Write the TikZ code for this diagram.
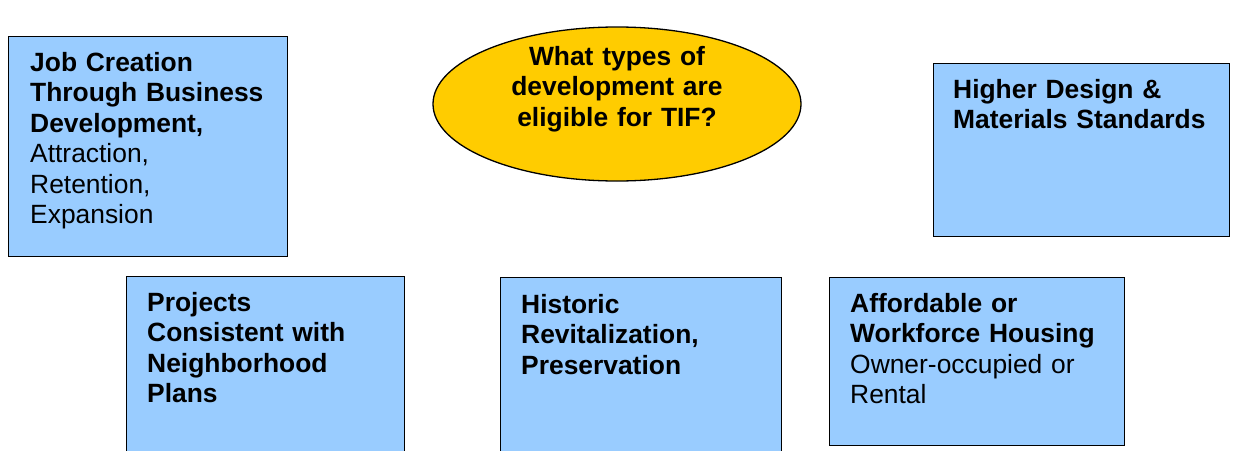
\documentclass[tikz,border=0pt]{standalone}
\usepackage{fontspec}
\setmainfont{Liberation Sans}
\usetikzlibrary{shapes.geometric}
\definecolor{boxblue}{HTML}{99CCFF}
\definecolor{tifgold}{HTML}{FFCC00}
\begin{document}
\begin{tikzpicture}[x=1pt,y=-1pt,
  card/.style={draw=black,line width=1.4pt,fill=boxblue,rectangle,inner sep=0pt,anchor=north west},
  txt/.style={anchor=base west,inner sep=0pt,align=left,text width=#1,font=\fontsize{26.4}{30.5}\selectfont},
  ctxt/.style={anchor=base,inner sep=0pt,align=center,text width=#1,font=\fontsize{26.4}{30.8}\selectfont\bfseries}
]
\useasboundingbox (0,0) rectangle (1234,450);
\clip (0,0) rectangle (1234,450);
\fill[white] (0,0) rectangle (1234,450);
% boxes
\node[card,minimum width=279pt,minimum height=220pt] (job) at (8,36) {};
\node[card,minimum width=296pt,minimum height=173pt] (design) at (932.5,63) {};
\node[card,minimum width=278pt,minimum height=200pt] (plans) at (126,276) {};
\node[card,minimum width=281pt,minimum height=200pt] (historic) at (500,277) {};
\node[card,minimum width=295pt,minimum height=168pt] (housing) at (828.5,277) {};
\node[ellipse,draw=black,line width=1.3pt,fill=tifgold,minimum width=368pt,minimum height=154pt,inner sep=0pt] (question) at (617,104) {};
% texts
\node[txt=260pt] (jobtext) at (30,71) {\textbf{Job Creation\\Through Business\\Development,}\\Attraction,\\Retention,\\Expansion};
\node[ctxt=330pt] (qtext) at (617,65) {What types of\\development are\\eligible for TIF?};
\node[txt=275pt] (designtext) at (953,98) {\textbf{Higher Design \&\\Materials Standards}};
\node[txt=255pt] (planstext) at (147,311) {\textbf{Projects\\Consistent with\\Neighborhood\\Plans}};
\node[txt=258pt] (historictext) at (521,313) {\textbf{Historic\\Revitalization,\\Preservation}};
\node[txt=272pt] (housingtext) at (850,312) {\textbf{Affordable or\\Workforce Housing}\\Owner-occupied or\\Rental};
\end{tikzpicture}
\end{document}
